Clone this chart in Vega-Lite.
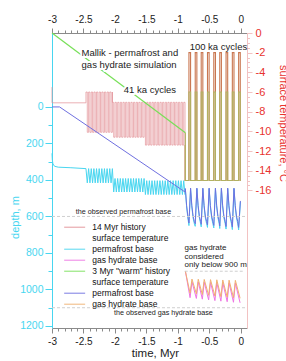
{
"$schema":"https://vega.github.io/schema/vega-lite/v6.json",
"width":195,"height":295,"autosize":"none",
"padding":{"left":52,"top":33,"right":39,"bottom":33},
"config":{"font":"Liberation Sans","view":{"stroke":null},"axis":{"grid":false,"labelFont":"Liberation Sans","titleFont":"Liberation Sans","titleFontWeight":"normal","labelOverlap":false,"labelFlush":false,"labelBound":false}},
"datasets":{
"tp":[
{"s":"14T","t":-3,"v":-5.5},{"s":"14T","t":-3,"v":-7.1},{"s":"14T","t":-2.46,"v":-7.1},{"s":"14T","t":-2.46,"v":-6},
{"s":"14T","t":-2.439,"v":-10.1},{"s":"14T","t":-2.418,"v":-6},{"s":"14T","t":-2.397,"v":-10.1},{"s":"14T","t":-2.376,"v":-6},{"s":"14T","t":-2.355,"v":-10.1},{"s":"14T","t":-2.334,"v":-6},{"s":"14T","t":-2.313,"v":-10.1},{"s":"14T","t":-2.292,"v":-6},{"s":"14T","t":-2.271,"v":-10.1},{"s":"14T","t":-2.25,"v":-6},{"s":"14T","t":-2.229,"v":-10.1},{"s":"14T","t":-2.208,"v":-6},{"s":"14T","t":-2.187,"v":-10.1},{"s":"14T","t":-2.166,"v":-6},{"s":"14T","t":-2.145,"v":-10.1},{"s":"14T","t":-2.124,"v":-6},{"s":"14T","t":-2.103,"v":-10.1},{"s":"14T","t":-2.082,"v":-6},{"s":"14T","t":-2.061,"v":-10.1},{"s":"14T","t":-2.04,"v":-6},
{"s":"14T","t":-2.04,"v":-7.05},{"s":"14T","t":-2.019,"v":-10.6},{"s":"14T","t":-1.998,"v":-7.05},{"s":"14T","t":-1.977,"v":-10.6},{"s":"14T","t":-1.956,"v":-7.05},{"s":"14T","t":-1.935,"v":-10.6},{"s":"14T","t":-1.914,"v":-7.05},{"s":"14T","t":-1.893,"v":-10.6},{"s":"14T","t":-1.872,"v":-7.05},{"s":"14T","t":-1.851,"v":-10.6},{"s":"14T","t":-1.83,"v":-7.05},{"s":"14T","t":-1.809,"v":-10.6},{"s":"14T","t":-1.788,"v":-7.05},{"s":"14T","t":-1.767,"v":-10.6},{"s":"14T","t":-1.746,"v":-7.05},{"s":"14T","t":-1.725,"v":-10.6},{"s":"14T","t":-1.704,"v":-7.05},{"s":"14T","t":-1.683,"v":-10.6},{"s":"14T","t":-1.662,"v":-7.05},{"s":"14T","t":-1.641,"v":-10.6},{"s":"14T","t":-1.62,"v":-7.05},{"s":"14T","t":-1.599,"v":-10.6},{"s":"14T","t":-1.578,"v":-7.05},{"s":"14T","t":-1.557,"v":-10.6},{"s":"14T","t":-1.536,"v":-7.05},
{"s":"14T","t":-1.515,"v":-11.4},{"s":"14T","t":-1.494,"v":-7.05},{"s":"14T","t":-1.473,"v":-11.4},{"s":"14T","t":-1.452,"v":-7.05},{"s":"14T","t":-1.431,"v":-11.4},{"s":"14T","t":-1.41,"v":-7.05},{"s":"14T","t":-1.389,"v":-11.4},{"s":"14T","t":-1.368,"v":-7.05},{"s":"14T","t":-1.347,"v":-11.4},{"s":"14T","t":-1.326,"v":-7.05},{"s":"14T","t":-1.305,"v":-11.4},{"s":"14T","t":-1.284,"v":-7.05},{"s":"14T","t":-1.263,"v":-11.4},{"s":"14T","t":-1.242,"v":-7.05},{"s":"14T","t":-1.221,"v":-11.4},{"s":"14T","t":-1.2,"v":-7.05},{"s":"14T","t":-1.179,"v":-11.4},{"s":"14T","t":-1.158,"v":-7.05},{"s":"14T","t":-1.137,"v":-11.4},{"s":"14T","t":-1.116,"v":-7.05},{"s":"14T","t":-1.095,"v":-11.4},{"s":"14T","t":-1.074,"v":-7.05},{"s":"14T","t":-1.053,"v":-11.4},{"s":"14T","t":-1.032,"v":-7.05},{"s":"14T","t":-1.011,"v":-11.4},{"s":"14T","t":-0.99,"v":-7.05},{"s":"14T","t":-0.969,"v":-11.4},{"s":"14T","t":-0.948,"v":-7.05},{"s":"14T","t":-0.927,"v":-11.4},{"s":"14T","t":-0.906,"v":-7.05},{"s":"14T","t":-0.885,"v":-11.4}
],
"tg":[{"s":"3T","t":-3,"v":0},{"s":"3T","t":-0.88,"v":-10.15}],
"tc":[
{"s":"o","t":-0.885,"v":-11.4},{"s":"o","t":-0.885,"v":-15},{"s":"o","t":-0.823,"v":-15},{"s":"o","t":-0.823,"v":-2},{"s":"o","t":-0.797,"v":-2},{"s":"o","t":-0.797,"v":-15},{"s":"o","t":-0.723,"v":-15},{"s":"o","t":-0.723,"v":-2},{"s":"o","t":-0.697,"v":-2},{"s":"o","t":-0.697,"v":-15},{"s":"o","t":-0.628,"v":-15},{"s":"o","t":-0.628,"v":-2},{"s":"o","t":-0.602,"v":-2},{"s":"o","t":-0.602,"v":-15},{"s":"o","t":-0.528,"v":-15},{"s":"o","t":-0.528,"v":-2},{"s":"o","t":-0.502,"v":-2},{"s":"o","t":-0.502,"v":-15},{"s":"o","t":-0.428,"v":-15},{"s":"o","t":-0.428,"v":-2},{"s":"o","t":-0.402,"v":-2},{"s":"o","t":-0.402,"v":-15},{"s":"o","t":-0.333,"v":-15},{"s":"o","t":-0.333,"v":-2},{"s":"o","t":-0.307,"v":-2},{"s":"o","t":-0.307,"v":-15},{"s":"o","t":-0.233,"v":-15},{"s":"o","t":-0.233,"v":-2},{"s":"o","t":-0.207,"v":-2},{"s":"o","t":-0.207,"v":-15},{"s":"o","t":-0.133,"v":-15},{"s":"o","t":-0.133,"v":-2},{"s":"o","t":-0.107,"v":-2},{"s":"o","t":-0.107,"v":-15},{"s":"o","t":-0.033,"v":-15},{"s":"o","t":-0.033,"v":-2},{"s":"o","t":-0.007,"v":-2},{"s":"o","t":-0.007,"v":-15},{"s":"o","t":0,"v":-15},
{"s":"g","t":-0.88,"v":-10.15},{"s":"g","t":-0.88,"v":-15},{"s":"g","t":-0.823,"v":-15},{"s":"g","t":-0.823,"v":-6},{"s":"g","t":-0.797,"v":-6},{"s":"g","t":-0.797,"v":-15},{"s":"g","t":-0.723,"v":-15},{"s":"g","t":-0.723,"v":-6},{"s":"g","t":-0.697,"v":-6},{"s":"g","t":-0.697,"v":-15},{"s":"g","t":-0.628,"v":-15},{"s":"g","t":-0.628,"v":-6},{"s":"g","t":-0.602,"v":-6},{"s":"g","t":-0.602,"v":-15},{"s":"g","t":-0.528,"v":-15},{"s":"g","t":-0.528,"v":-6},{"s":"g","t":-0.502,"v":-6},{"s":"g","t":-0.502,"v":-15},{"s":"g","t":-0.428,"v":-15},{"s":"g","t":-0.428,"v":-6},{"s":"g","t":-0.402,"v":-6},{"s":"g","t":-0.402,"v":-15},{"s":"g","t":-0.333,"v":-15},{"s":"g","t":-0.333,"v":-6},{"s":"g","t":-0.307,"v":-6},{"s":"g","t":-0.307,"v":-15},{"s":"g","t":-0.233,"v":-15},{"s":"g","t":-0.233,"v":-6},{"s":"g","t":-0.207,"v":-6},{"s":"g","t":-0.207,"v":-15},{"s":"g","t":-0.133,"v":-15},{"s":"g","t":-0.133,"v":-6},{"s":"g","t":-0.107,"v":-6},{"s":"g","t":-0.107,"v":-15},{"s":"g","t":-0.033,"v":-15},{"s":"g","t":-0.033,"v":-6},{"s":"g","t":-0.007,"v":-6},{"s":"g","t":-0.007,"v":-15},{"s":"g","t":0,"v":-15}
],
"dep":[
{"s":"14P","t":-3,"v":254},{"s":"14P","t":-2.995,"v":290},{"s":"14P","t":-2.985,"v":312},{"s":"14P","t":-2.96,"v":325},{"s":"14P","t":-2.9,"v":330},{"s":"14P","t":-2.7,"v":333},{"s":"14P","t":-2.46,"v":338},
{"s":"14P","t":-2.439,"v":416},{"s":"14P","t":-2.418,"v":338},{"s":"14P","t":-2.397,"v":416},{"s":"14P","t":-2.376,"v":338},{"s":"14P","t":-2.355,"v":416},{"s":"14P","t":-2.334,"v":338},{"s":"14P","t":-2.313,"v":416},{"s":"14P","t":-2.292,"v":338},{"s":"14P","t":-2.271,"v":416},{"s":"14P","t":-2.25,"v":338},{"s":"14P","t":-2.229,"v":416},{"s":"14P","t":-2.208,"v":338},{"s":"14P","t":-2.187,"v":416},{"s":"14P","t":-2.166,"v":338},{"s":"14P","t":-2.145,"v":416},{"s":"14P","t":-2.124,"v":338},{"s":"14P","t":-2.103,"v":416},{"s":"14P","t":-2.082,"v":338},{"s":"14P","t":-2.061,"v":416},{"s":"14P","t":-2.04,"v":338},
{"s":"14P","t":-2.019,"v":466},{"s":"14P","t":-1.998,"v":392},{"s":"14P","t":-1.977,"v":466},{"s":"14P","t":-1.956,"v":392},{"s":"14P","t":-1.935,"v":466},{"s":"14P","t":-1.914,"v":392},{"s":"14P","t":-1.893,"v":466},{"s":"14P","t":-1.872,"v":392},{"s":"14P","t":-1.851,"v":466},{"s":"14P","t":-1.83,"v":392},{"s":"14P","t":-1.809,"v":466},{"s":"14P","t":-1.788,"v":392},{"s":"14P","t":-1.767,"v":466},{"s":"14P","t":-1.746,"v":392},{"s":"14P","t":-1.725,"v":466},{"s":"14P","t":-1.704,"v":392},{"s":"14P","t":-1.683,"v":466},{"s":"14P","t":-1.662,"v":392},{"s":"14P","t":-1.641,"v":466},{"s":"14P","t":-1.62,"v":392},{"s":"14P","t":-1.599,"v":466},{"s":"14P","t":-1.578,"v":392},{"s":"14P","t":-1.557,"v":466},{"s":"14P","t":-1.536,"v":392},
{"s":"14P","t":-1.515,"v":480},{"s":"14P","t":-1.494,"v":404},{"s":"14P","t":-1.473,"v":480},{"s":"14P","t":-1.452,"v":404},{"s":"14P","t":-1.431,"v":480},{"s":"14P","t":-1.41,"v":404},{"s":"14P","t":-1.389,"v":480},{"s":"14P","t":-1.368,"v":404},{"s":"14P","t":-1.347,"v":480},{"s":"14P","t":-1.326,"v":404},{"s":"14P","t":-1.305,"v":480},{"s":"14P","t":-1.284,"v":404},{"s":"14P","t":-1.263,"v":480},{"s":"14P","t":-1.242,"v":404},{"s":"14P","t":-1.221,"v":480},{"s":"14P","t":-1.2,"v":404},{"s":"14P","t":-1.179,"v":480},{"s":"14P","t":-1.158,"v":404},{"s":"14P","t":-1.137,"v":480},{"s":"14P","t":-1.116,"v":404},{"s":"14P","t":-1.095,"v":480},{"s":"14P","t":-1.074,"v":404},{"s":"14P","t":-1.053,"v":480},{"s":"14P","t":-1.032,"v":404},{"s":"14P","t":-1.011,"v":480},{"s":"14P","t":-0.99,"v":404},{"s":"14P","t":-0.969,"v":480},{"s":"14P","t":-0.948,"v":404},{"s":"14P","t":-0.927,"v":480},{"s":"14P","t":-0.906,"v":404},{"s":"14P","t":-0.885,"v":480},
{"s":"14P","t":-0.88,"v":452},{"s":"14P","t":-0.86,"v":548},{"s":"14P","t":-0.84,"v":608},{"s":"14P","t":-0.823,"v":650},{"s":"14P","t":-0.797,"v":447},{"s":"14P","t":-0.777,"v":548},{"s":"14P","t":-0.757,"v":608},{"s":"14P","t":-0.737,"v":640},{"s":"14P","t":-0.723,"v":654},{"s":"14P","t":-0.697,"v":447},{"s":"14P","t":-0.677,"v":548},{"s":"14P","t":-0.657,"v":608},{"s":"14P","t":-0.637,"v":640},{"s":"14P","t":-0.628,"v":657},{"s":"14P","t":-0.602,"v":447},{"s":"14P","t":-0.582,"v":548},{"s":"14P","t":-0.562,"v":608},{"s":"14P","t":-0.542,"v":640},{"s":"14P","t":-0.528,"v":660},{"s":"14P","t":-0.502,"v":447},{"s":"14P","t":-0.482,"v":548},{"s":"14P","t":-0.462,"v":608},{"s":"14P","t":-0.442,"v":640},{"s":"14P","t":-0.428,"v":663},{"s":"14P","t":-0.402,"v":447},{"s":"14P","t":-0.382,"v":548},{"s":"14P","t":-0.362,"v":608},{"s":"14P","t":-0.342,"v":640},{"s":"14P","t":-0.333,"v":666},{"s":"14P","t":-0.307,"v":447},{"s":"14P","t":-0.287,"v":548},{"s":"14P","t":-0.267,"v":608},{"s":"14P","t":-0.247,"v":640},{"s":"14P","t":-0.233,"v":669},{"s":"14P","t":-0.207,"v":447},{"s":"14P","t":-0.187,"v":548},{"s":"14P","t":-0.167,"v":608},{"s":"14P","t":-0.147,"v":640},{"s":"14P","t":-0.133,"v":672},{"s":"14P","t":-0.107,"v":447},{"s":"14P","t":-0.087,"v":548},{"s":"14P","t":-0.067,"v":608},{"s":"14P","t":-0.047,"v":640},{"s":"14P","t":-0.033,"v":674},{"s":"14P","t":-0.005,"v":520},
{"s":"3P","t":-3,"v":0},{"s":"3P","t":-2.88,"v":0},{"s":"3P","t":-0.885,"v":466},{"s":"3P","t":-0.88,"v":447},{"s":"3P","t":-0.86,"v":540},{"s":"3P","t":-0.84,"v":598},{"s":"3P","t":-0.823,"v":636},{"s":"3P","t":-0.797,"v":445},{"s":"3P","t":-0.777,"v":540},{"s":"3P","t":-0.757,"v":598},{"s":"3P","t":-0.737,"v":628},{"s":"3P","t":-0.723,"v":640},{"s":"3P","t":-0.697,"v":445},{"s":"3P","t":-0.677,"v":540},{"s":"3P","t":-0.657,"v":598},{"s":"3P","t":-0.637,"v":628},{"s":"3P","t":-0.628,"v":643},{"s":"3P","t":-0.602,"v":445},{"s":"3P","t":-0.582,"v":540},{"s":"3P","t":-0.562,"v":598},{"s":"3P","t":-0.542,"v":628},{"s":"3P","t":-0.528,"v":646},{"s":"3P","t":-0.502,"v":445},{"s":"3P","t":-0.482,"v":540},{"s":"3P","t":-0.462,"v":598},{"s":"3P","t":-0.442,"v":628},{"s":"3P","t":-0.428,"v":649},{"s":"3P","t":-0.402,"v":445},{"s":"3P","t":-0.382,"v":540},{"s":"3P","t":-0.362,"v":598},{"s":"3P","t":-0.342,"v":628},{"s":"3P","t":-0.333,"v":652},{"s":"3P","t":-0.307,"v":445},{"s":"3P","t":-0.287,"v":540},{"s":"3P","t":-0.267,"v":598},{"s":"3P","t":-0.247,"v":628},{"s":"3P","t":-0.233,"v":655},{"s":"3P","t":-0.207,"v":445},{"s":"3P","t":-0.187,"v":540},{"s":"3P","t":-0.167,"v":598},{"s":"3P","t":-0.147,"v":628},{"s":"3P","t":-0.133,"v":658},{"s":"3P","t":-0.107,"v":445},{"s":"3P","t":-0.087,"v":540},{"s":"3P","t":-0.067,"v":598},{"s":"3P","t":-0.047,"v":628},{"s":"3P","t":-0.033,"v":660},{"s":"3P","t":-0.005,"v":515},
{"s":"14G","t":-0.88,"v":899},{"s":"14G","t":-0.805,"v":1045},{"s":"14G","t":-0.775,"v":958},{"s":"14G","t":-0.705,"v":1049},{"s":"14G","t":-0.675,"v":959},{"s":"14G","t":-0.61,"v":1053},{"s":"14G","t":-0.58,"v":960},{"s":"14G","t":-0.51,"v":1057},{"s":"14G","t":-0.48,"v":961},{"s":"14G","t":-0.41,"v":1061},{"s":"14G","t":-0.38,"v":962},{"s":"14G","t":-0.315,"v":1064},{"s":"14G","t":-0.285,"v":963},{"s":"14G","t":-0.215,"v":1067},{"s":"14G","t":-0.185,"v":964},{"s":"14G","t":-0.115,"v":1070},{"s":"14G","t":-0.085,"v":965},{"s":"14G","t":-0.01,"v":1073},
{"s":"3G","t":-0.88,"v":899},{"s":"3G","t":-0.805,"v":1020},{"s":"3G","t":-0.775,"v":943},{"s":"3G","t":-0.705,"v":1024},{"s":"3G","t":-0.675,"v":944},{"s":"3G","t":-0.61,"v":1028},{"s":"3G","t":-0.58,"v":945},{"s":"3G","t":-0.51,"v":1032},{"s":"3G","t":-0.48,"v":946},{"s":"3G","t":-0.41,"v":1036},{"s":"3G","t":-0.38,"v":947},{"s":"3G","t":-0.315,"v":1039},{"s":"3G","t":-0.285,"v":948},{"s":"3G","t":-0.215,"v":1042},{"s":"3G","t":-0.185,"v":949},{"s":"3G","t":-0.115,"v":1045},{"s":"3G","t":-0.085,"v":950},{"s":"3G","t":-0.01,"v":1048}
],
"rul":[{"t":-3,"t2":0.1,"v":600},{"t":-3,"t2":0.1,"v":1100},{"t":-0.89,"t2":0.06,"v":900}],
"n1":[{"txt":"Mallik - permafrost and","t":-2.53,"v":-2.07},{"txt":"gas hydrate simulation","t":-2.53,"v":-3.26},{"txt":"41 ka cycles","t":-1.858,"v":-5.8},{"txt":"100 ka cycles","t":-0.812,"v":-1.42}],
"n2":[{"txt":"the observed permafrost base","t":-2.623,"v":575},{"txt":"the observed gas hydrate base","t":-2.013,"v":1129}],
"n3":[{"txt":"gas hydrate","t":-0.892,"v":774},{"txt":"considered","t":-0.892,"v":820},{"txt":"only below 900 m","t":-0.892,"v":866}]
},
"layer":[
{"data":{"name":"tp"},"mark":{"type":"line","strokeWidth":1,"opacity":0.7,"interpolate":"step-after"},
 "encoding":{
  "x":{"field":"t","type":"quantitative","scale":{"domain":[-3,0.1],"nice":false,"zero":false},"axis":null},
  "y":{"field":"v","type":"quantitative","title":"surface temperature, °C","scale":{"domain":[-30,0],"nice":false,"zero":false},
   "axis":{"orient":"right","values":[0,-0.5,-1,-1.5,-2,-2.5,-3,-3.5,-4,-4.5,-5,-5.5,-6,-6.5,-7,-7.5,-8,-8.5,-9,-9.5,-10,-10.5,-11,-11.5,-12,-12.5,-13,-13.5,-14,-14.5,-15,-15.5,-16],
    "labelExpr":"datum.value % 2 === 0 ? '' + datum.value : ''",
    "tickSize":{"condition":{"test":"datum.value % 2 === 0","value":5},"value":2.5},
    "domainColor":"#f2c2c2","tickColor":"#f2c2c2","labelColor":"#e8322e","labelFontSize":11,"labelPadding":3,
    "titleColor":"#e8322e","titleFontSize":11,"titleAngle":90,"titleX":35,"titleY":90,"titleAlign":"center","titleBaseline":"middle"}},
  "color":{"field":"s","type":"nominal","scale":{"domain":["14T","14P","14G","3T","3P","3G"],"range":["#e39096","#48d6f0","#ee74e4","#78e058","#6f70e0","#f0b070"]},
   "legend":{"orient":"none","legendX":18.4,"legendY":190,"title":null,"symbolType":"M-5,0H5","symbolSize":17.6,"symbolStrokeWidth":1.3,"labelOffset":13.4,"labelFontSize":8.5,"labelFont":"Liberation Sans","labelColor":"#111","rowPadding":2,"padding":0,"labelLimit":300,
    "labelExpr":"datum.value === '14T' ? ['14 Myr history', 'surface temperature'] : datum.value === '3T' ? ['3 Myr \"warm\" history', 'surface temperature'] : (datum.value === '14P' || datum.value === '3P') ? 'permafrost base' : 'gas hydrate base'"}},
  "order":{"value":null}
 }},
{"encoding":{
  "x":{"field":"t","type":"quantitative","title":"time, Myr","scale":{"domain":[-3,0.1],"nice":false,"zero":false},
   "axis":{"orient":"bottom","values":[-3,-2.9,-2.8,-2.7,-2.6,-2.5,-2.4,-2.3,-2.2,-2.1,-2,-1.9,-1.8,-1.7,-1.6,-1.5,-1.4,-1.3,-1.2,-1.1,-1,-0.9,-0.8,-0.7,-0.6,-0.5,-0.4,-0.3,-0.2,-0.1,0],
    "labelExpr":"abs(datum.value*2 - round(datum.value*2)) < 0.01 ? '' + datum.value : ''",
    "tickSize":{"condition":{"test":"abs(datum.value*2 - round(datum.value*2)) < 0.01","value":5},"value":3},
    "domainColor":"#8a8a8a","tickColor":"#8a8a8a","labelColor":"#222","labelFontSize":10,"labelPadding":3,
    "titleColor":"#222","titleFontSize":11.5,"titleX":103,"titleY":19,"titleAlign":"center","titleBaseline":"top"}},
  "y":{"field":"v","type":"quantitative","title":"depth, m","scale":{"domain":[-405,1211],"reverse":true,"nice":false,"zero":false},
   "axis":{"orient":"left","values":[0,100,200,300,400,500,600,700,800,900,1000,1100,1200],
    "labelExpr":"datum.value % 200 === 0 ? '' + datum.value : ''",
    "tickSize":{"condition":{"test":"datum.value % 200 === 0","value":7},"value":4},
    "domainColor":"#48d6f0","tickColor":"#48d6f0","labelColor":"#48d6f0","labelFontSize":10.5,"labelPadding":2,
    "titleColor":"#48d6f0","titleFontSize":11,"titleX":-37,"titleY":184,"titleAlign":"center","titleBaseline":"middle"}}},
 "layer":[
  {"data":{"name":"dep"},"mark":{"type":"line","strokeWidth":1},
   "encoding":{"color":{"field":"s","type":"nominal","scale":{"domain":["14T","14P","14G","3T","3P","3G"],"range":["#e39096","#48d6f0","#ee74e4","#78e058","#6f70e0","#f0b070"]},
    "legend":{"orient":"none","legendX":18.4,"legendY":190,"title":null,"symbolType":"M-5,0H5","symbolSize":17.6,"symbolStrokeWidth":1.3,"labelOffset":13.4,"labelFontSize":8.5,"labelFont":"Liberation Sans","labelColor":"#111","rowPadding":2,"padding":0,"labelLimit":300,
     "labelExpr":"datum.value === '14T' ? ['14 Myr history', 'surface temperature'] : datum.value === '3T' ? ['3 Myr \"warm\" history', 'surface temperature'] : (datum.value === '14P' || datum.value === '3P') ? 'permafrost base' : 'gas hydrate base'"}},
    "order":{"value":null}}},
  {"data":{"name":"rul"},"mark":{"type":"rule","color":"#cfcfcf","strokeDash":[3,2],"strokeWidth":1},"encoding":{"x2":{"field":"t2"}}},
  {"data":{"name":"n2"},"mark":{"type":"text","align":"left","baseline":"middle","fontSize":7.2,"color":"#222","font":"Liberation Sans"},"encoding":{"text":{"field":"txt"}}},
  {"data":{"name":"n3"},"mark":{"type":"text","align":"left","baseline":"middle","fontSize":8,"color":"#222","font":"Liberation Sans"},"encoding":{"text":{"field":"txt"}}}
 ]},
{"encoding":{
  "x":{"field":"t","type":"quantitative","title":null,"scale":{"domain":[-3,0.1],"nice":false,"zero":false},
   "axis":{"orient":"top","values":[-3,-2.9,-2.8,-2.7,-2.6,-2.5,-2.4,-2.3,-2.2,-2.1,-2,-1.9,-1.8,-1.7,-1.6,-1.5,-1.4,-1.3,-1.2,-1.1,-1,-0.9,-0.8,-0.7,-0.6,-0.5,-0.4,-0.3,-0.2,-0.1,0],
    "labelExpr":"abs(datum.value*2 - round(datum.value*2)) < 0.01 ? '' + datum.value : ''",
    "tickSize":{"condition":{"test":"abs(datum.value*2 - round(datum.value*2)) < 0.01","value":5},"value":3},
    "domainColor":"#8a8a8a","tickColor":"#8a8a8a","labelColor":"#222","labelFontSize":10,"labelPadding":4}},
  "y":{"field":"v","type":"quantitative","scale":{"domain":[-30,0],"nice":false,"zero":false},"axis":null}},
 "layer":[
  {"data":{"name":"tc"},"transform":[{"filter":"datum.s === 'o'"}],"mark":{"type":"line","strokeWidth":1.1,"color":"#c97650"},"encoding":{"order":{"value":null}}},
  {"data":{"name":"tc"},"transform":[{"filter":"datum.s === 'g'"}],"mark":{"type":"line","strokeWidth":1.1,"color":"#b2b262"},"encoding":{"order":{"value":null}}},
  {"data":{"name":"tg"},"mark":{"type":"line","strokeWidth":1.2},
   "encoding":{"color":{"field":"s","type":"nominal","scale":{"domain":["14T","14P","14G","3T","3P","3G"],"range":["#e39096","#48d6f0","#ee74e4","#78e058","#6f70e0","#f0b070"]},
    "legend":{"orient":"none","legendX":18.4,"legendY":190,"title":null,"symbolType":"M-5,0H5","symbolSize":17.6,"symbolStrokeWidth":1.3,"labelOffset":13.4,"labelFontSize":8.5,"labelFont":"Liberation Sans","labelColor":"#111","rowPadding":2,"padding":0,"labelLimit":300,
     "labelExpr":"datum.value === '14T' ? ['14 Myr history', 'surface temperature'] : datum.value === '3T' ? ['3 Myr \"warm\" history', 'surface temperature'] : (datum.value === '14P' || datum.value === '3P') ? 'permafrost base' : 'gas hydrate base'"}},
    "order":{"value":null}}},
  {"data":{"name":"n1"},"transform":[{"filter":"datum.txt !== '100 ka cycles'"}],"mark":{"type":"text","align":"left","baseline":"middle","fontSize":9.5,"font":"Liberation Sans","fill":"white","stroke":"white","strokeWidth":4,"strokeJoin":"round"},"encoding":{"text":{"field":"txt"}}},
  {"data":{"name":"n1"},"mark":{"type":"text","align":"left","baseline":"middle","fontSize":9.5,"font":"Liberation Sans","color":"#222"},"encoding":{"text":{"field":"txt"}}}
 ]}
],
"resolve":{"scale":{"y":"independent"},"axis":{"x":"independent","y":"independent"}}
}
